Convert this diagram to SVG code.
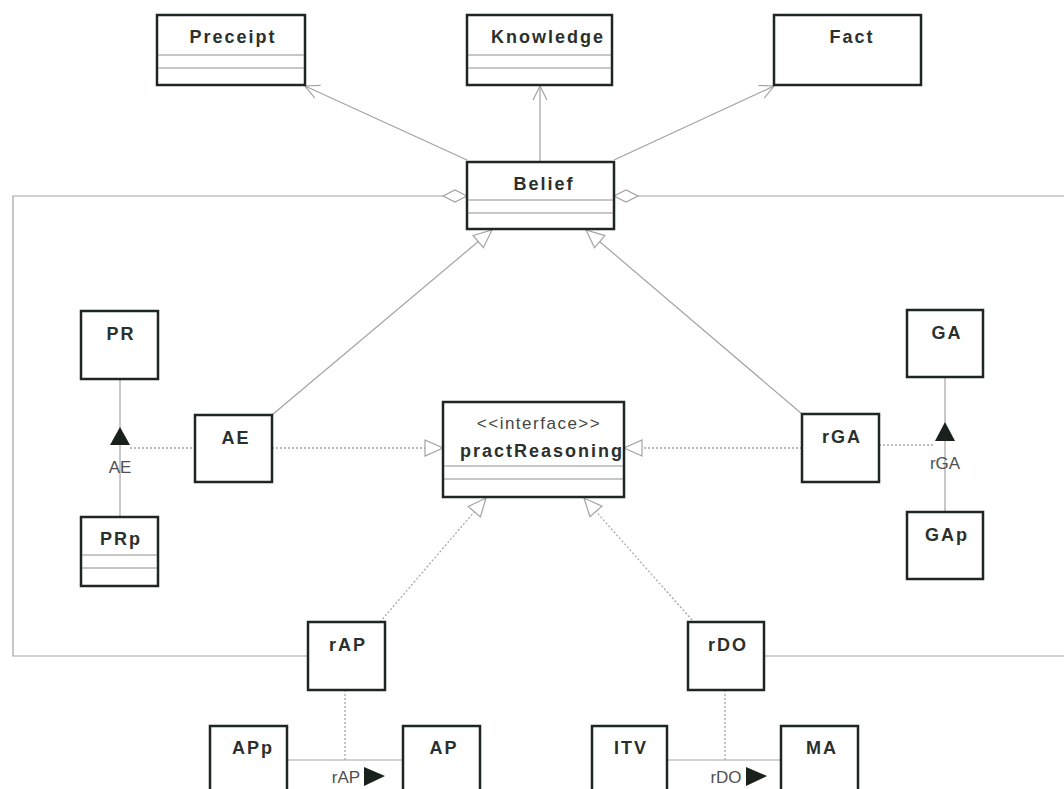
<svg xmlns="http://www.w3.org/2000/svg" width="1064" height="789" viewBox="0 0 1064 789">
  <style>
    .box { fill: #ffffff; stroke: #1f2622; stroke-width: 2.5; }
    .div { stroke: #8a8f8c; stroke-width: 1.2; fill: none; }
    .name { font-family: "Liberation Sans", Arial, sans-serif; font-weight: bold; font-size: 18px; letter-spacing: 2px; fill: #2b302d; text-anchor: middle; }
    .stereo { font-family: "Liberation Sans", Arial, sans-serif; font-size: 17px; letter-spacing: 1.5px; fill: #444; text-anchor: middle; }
    .lbl { font-family: "Liberation Sans", Arial, sans-serif; font-size: 17px; fill: #505050; text-anchor: middle; }
    .conn { stroke: #a3a3a3; stroke-width: 1.2; fill: none; }
    .dot { stroke: #a8a8a8; stroke-width: 1.3; fill: none; stroke-dasharray: 2 2; }
    .head { fill: #1a201c; stroke: none; }
  </style>
  <defs>
    <marker id="open" markerUnits="userSpaceOnUse" markerWidth="22" markerHeight="22" viewBox="-20 -10 22 20" refX="0" refY="0" orient="auto">
      <path d="M-14,-7 L0,0 L-14,7" fill="none" stroke="#a3a3a3" stroke-width="1.2"/>
    </marker>
    <marker id="tri" markerUnits="userSpaceOnUse" markerWidth="24" markerHeight="24" viewBox="-22 -11 24 22" refX="0" refY="0" orient="auto">
      <path d="M-18,-8 L0,0 L-18,8 Z" fill="#ffffff" stroke="#a3a3a3" stroke-width="1.2"/>
    </marker>
    <marker id="diamond" markerUnits="userSpaceOnUse" markerWidth="28" markerHeight="16" viewBox="-26 -8 28 16" refX="0" refY="0" orient="auto">
      <path d="M0,0 L-12,-6 L-24,0 L-12,6 Z" fill="#ffffff" stroke="#a3a3a3" stroke-width="1.2"/>
    </marker>
  </defs>

  <!-- connectors -->
  <g id="connectors">
    <!-- Belief to Preceipt / Knowledge / Fact -->
    <path class="conn" d="M467,160 L305,86" marker-end="url(#open)"/>
    <path class="conn" d="M540,162 L540,86" marker-end="url(#open)"/>
    <path class="conn" d="M614,160 L774,86" marker-end="url(#open)"/>
    <!-- aggregation loops -->
    <path class="conn" d="M308,656 L13,656 L13,196 L467,196" marker-end="url(#diamond)"/>
    <path class="conn" d="M764,656 L1068,656 L1068,196 L614,196" marker-end="url(#diamond)"/>
    <!-- AE / rGA to Belief -->
    <path class="conn" d="M272,415 L492,230" marker-end="url(#tri)"/>
    <path class="conn" d="M802,414 L586,230" marker-end="url(#tri)"/>
    <!-- realizations of practReasoning -->
    <path class="dot" d="M272,448 L443,448" marker-end="url(#tri)"/>
    <path class="dot" d="M802,448 L624,448" marker-end="url(#tri)"/>
    <path class="dot" d="M380,622 L486,498" marker-end="url(#tri)"/>
    <path class="dot" d="M692,620 L584,498" marker-end="url(#tri)"/>
    <!-- PR / PRp association with AE -->
    <path class="conn" d="M120,379 L120,517"/>
    <path class="dot" d="M130,448 L195,448"/>
    <path class="head" d="M110,445 L120,427 L130,445 Z"/>
    <text class="lbl" x="120" y="473">AE</text>
    <!-- GA / GAp association with rGA -->
    <path class="conn" d="M945,377 L945,512"/>
    <path class="dot" d="M879,445 L935,445"/>
    <path class="head" d="M935,441 L945,422 L955,441 Z"/>
    <text class="lbl" x="945" y="469">rGA</text>
    <!-- APp / AP association with rAP -->
    <path class="conn" d="M287,760 L403,760"/>
    <path class="dot" d="M345,690 L345,760"/>
    <text class="lbl" x="346" y="783">rAP</text>
    <path class="head" d="M364,767 L385,776 L364,786 Z"/>
    <!-- ITV / MA association with rDO -->
    <path class="conn" d="M667,760 L781,760"/>
    <path class="dot" d="M725,690 L725,760"/>
    <text class="lbl" x="726" y="783">rDO</text>
    <path class="head" d="M746,767 L767,776 L746,786 Z"/>
  </g>

  <g id="Preceipt">
    <rect class="box" x="157" y="15" width="148" height="70"/>
    <path class="div" d="M158,55 H304 M158,68 H304"/>
    <text class="name" x="233" y="43">Preceipt</text>
  </g>
  <g id="Knowledge">
    <rect class="box" x="467" y="15" width="145" height="70"/>
    <path class="div" d="M468,55 H611 M468,68 H611"/>
    <text class="name" x="548" y="43">Knowledge</text>
  </g>
  <g id="Fact">
    <rect class="box" x="774" y="15" width="147" height="70"/>
    <text class="name" x="852" y="43">Fact</text>
  </g>
  <g id="Belief">
    <rect class="box" x="467" y="162" width="147" height="67"/>
    <path class="div" d="M468,200 H613 M468,213 H613"/>
    <text class="name" x="544" y="190">Belief</text>
  </g>
  <g id="PR">
    <rect class="box" x="81" y="311" width="77" height="68"/>
    <text class="name" x="121" y="340">PR</text>
  </g>
  <g id="PRp">
    <rect class="box" x="81" y="517" width="77" height="69"/>
    <path class="div" d="M82,555 H157 M82,568 H157"/>
    <text class="name" x="121" y="545">PRp</text>
  </g>
  <g id="AE">
    <rect class="box" x="195" y="415" width="77" height="67"/>
    <text class="name" x="236" y="444">AE</text>
  </g>
  <g id="practReasoning">
    <rect class="box" x="443" y="402" width="181" height="95"/>
    <path class="div" d="M444,466 H623 M444,479 H623"/>
    <text class="stereo" x="539" y="429">&lt;&lt;interface&gt;&gt;</text>
    <text class="name" x="542" y="457">practReasoning</text>
  </g>
  <g id="rGA">
    <rect class="box" x="802" y="414" width="77" height="68"/>
    <text class="name" x="842" y="443">rGA</text>
  </g>
  <g id="GA">
    <rect class="box" x="907" y="310" width="76" height="67"/>
    <text class="name" x="947" y="339">GA</text>
  </g>
  <g id="GAp">
    <rect class="box" x="907" y="512" width="76" height="67"/>
    <text class="name" x="947" y="541">GAp</text>
  </g>
  <g id="rAP">
    <rect class="box" x="308" y="622" width="77" height="68"/>
    <text class="name" x="348" y="651">rAP</text>
  </g>
  <g id="rDO">
    <rect class="box" x="688" y="622" width="76" height="68"/>
    <text class="name" x="728" y="651">rDO</text>
  </g>
  <g id="APp">
    <rect class="box" x="210" y="726" width="77" height="80"/>
    <text class="name" x="253" y="754">APp</text>
  </g>
  <g id="AP">
    <rect class="box" x="403" y="726" width="77" height="80"/>
    <text class="name" x="444" y="754">AP</text>
  </g>
  <g id="ITV">
    <rect class="box" x="592" y="726" width="75" height="80"/>
    <text class="name" x="631" y="754">ITV</text>
  </g>
  <g id="MA">
    <rect class="box" x="781" y="726" width="77" height="80"/>
    <text class="name" x="822" y="754">MA</text>
  </g>
</svg>
